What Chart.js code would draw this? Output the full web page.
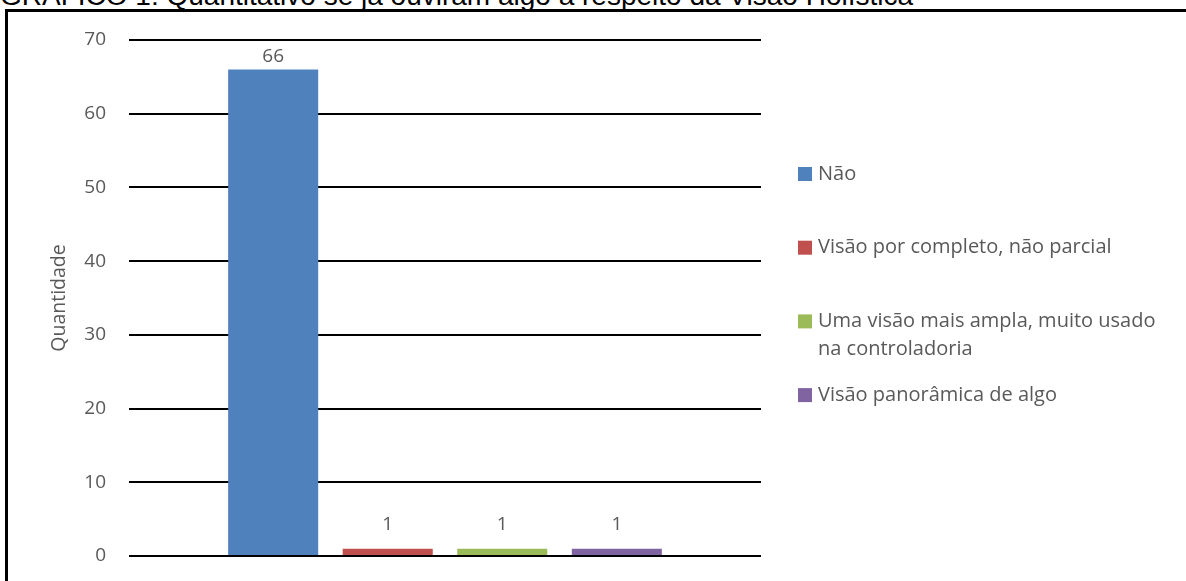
<!DOCTYPE html>
<html>
<head>
<meta charset="utf-8">
<script src="https://cdn.jsdelivr.net/npm/chart.js@4.4.0/dist/chart.umd.min.js"></script>
<style>
html, body { margin: 0; padding: 0; background: #fff; overflow: hidden; }
#wrap { position: relative; width: 1186px; height: 581px; overflow: hidden; }
#title { position: absolute; left: 0; top: -18px; font: 28px "Liberation Sans", Arial, sans-serif; line-height: 28px; white-space: nowrap; color: #000; }
#frame { position: absolute; left: 5px; top: 9px; right: -10px; bottom: -10px; border-left: 3px solid #000; border-top: 3px solid #000; }
canvas { position: absolute; left: 0; top: 0; }
</style>
</head>
<body>
<div id="wrap">
  <div id="title">GRÁFICO 1: Quantitativo se já ouviram algo a respeito da Visão Holística</div>
  <div id="frame"></div>
  <canvas id="chart" width="1186" height="581"></canvas>
</div>
<script>
const categories = [""];
const seriesNames = ["Não", "Visão por completo, não parcial", "Uma visão mais ampla, muito usado na controladoria", "Visão panorâmica de algo"];
const seriesValues = [66, 1, 1, 1];
const seriesColors = ["#4F81BD", "#C0504D", "#9BBB59", "#8064A2"];
const yTicks = [0, 10, 20, 30, 40, 50, 60, 70];

const fontFamily = '"Open Sans", sans-serif';
const textColor = "#595959";

// value labels above each bar
const valueLabels = {
    id: "valueLabels",
    afterDatasetsDraw(chart) {
        const ctx = chart.ctx;
        ctx.save();
        ctx.font = "19px " + fontFamily;
        ctx.fillStyle = textColor;
        ctx.textAlign = "center";
        ctx.textBaseline = "middle";
        chart.data.datasets.forEach((ds, i) => {
            const meta = chart.getDatasetMeta(i);
            meta.data.forEach((bar, j) => {
                const gap = ds.data[j] > 10 ? 13 : 24;
                ctx.fillText(ds.data[j], bar.x, bar.y - gap);
            });
        });
        ctx.restore();
    }
};

// excel-like legend on the right, entries spaced evenly by first line
const sideLegend = {
    id: "sideLegend",
    afterDraw(chart) {
        const ctx = chart.ctx;
        const area = chart.chartArea;
        const x = area.right + 37;
        const top = area.top + 134;
        const step = 73.7;
        const lineH = 28;
        const maxW = chart.width - x - 20 - 20;
        ctx.save();
        ctx.font = "20px " + fontFamily;
        ctx.textBaseline = "middle";
        chart.data.datasets.forEach((ds, i) => {
            const y = top + i * step;
            ctx.fillStyle = ds.backgroundColor;
            ctx.fillRect(x, y - 7, 14, 14);
            ctx.fillStyle = textColor;
            const words = ds.label.split(" ");
            let line = "";
            let ly = y;
            words.forEach(w => {
                const test = line ? line + " " + w : w;
                if (ctx.measureText(test).width > maxW && line) {
                    ctx.fillText(line, x + 20, ly);
                    line = w;
                    ly += lineH;
                } else {
                    line = test;
                }
            });
            ctx.fillText(line, x + 20, ly);
        });
        ctx.restore();
    }
};

const ctx = document.getElementById("chart").getContext("2d");
new Chart(ctx, {
    type: "bar",
    data: {
        labels: categories,
        datasets: seriesNames.map((name, i) => ({
            label: name,
            data: [seriesValues[i]],
            backgroundColor: seriesColors[i],
            categoryPercentage: 0.725,
            barPercentage: 0.786
        }))
    },
    options: {
        responsive: false,
        animation: false,
        layout: { padding: { left: 0, top: 40, right: 425, bottom: 25 } },
        plugins: {
            legend: { display: false },
            tooltip: { enabled: false }
        },
        scales: {
            x: { display: false },
            y: {
                min: 0,
                max: 70,
                afterBuildTicks(scale) { scale.ticks = yTicks.map(v => ({ value: v })); },
                afterFit(scale) {
                    scale.width = 129;
                    scale.paddingTop = 0;
                    scale.paddingBottom = 0;
                },
                ticks: { color: textColor, font: { family: fontFamily, size: 19 }, padding: 23 },
                grid: { color: "#000", lineWidth: 2, drawTicks: false },
                border: { display: false },
                title: {
                    display: true,
                    text: "Quantidade",
                    color: textColor,
                    font: { family: fontFamily, size: 19.5 },
                    padding: { top: 48, bottom: 0 }
                }
            }
        }
    },
    plugins: [valueLabels, sideLegend]
});
</script>
</body>
</html>
